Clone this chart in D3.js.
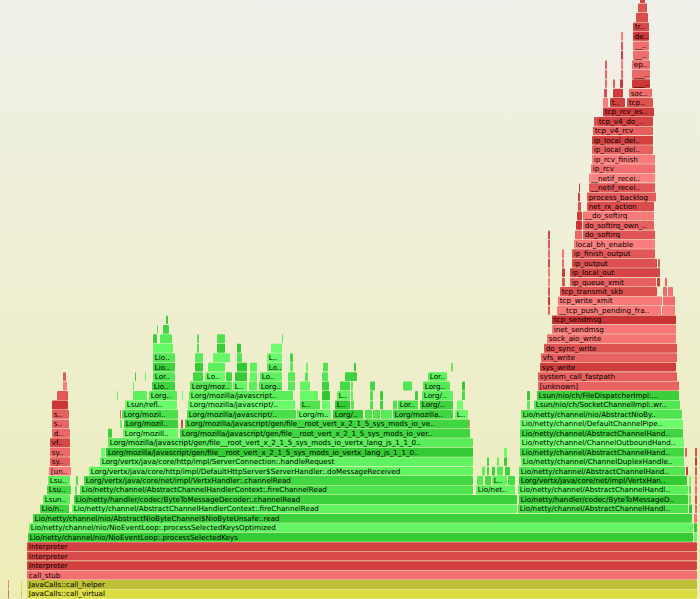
<!DOCTYPE html>
<html><head><meta charset="utf-8">
<script src="https://cdn.jsdelivr.net/npm/d3@7"></script>
<style>html,body{margin:0;padding:0;overflow:hidden;background:#eeeed8}</style>
</head><body>
<svg id="chart" width="700" height="599"></svg>
<script>
// ---------------- DATA ----------------
// Each frame: [stack depth, first sample, last sample, frame name, frame kind]
// kinds: J = Java (JIT), K = kernel / native, I = interpreter, C = C++, S = stub
const totalSamples = 700;
const maxDepth = 63;

const jvmBase = [
  [0,8,9,'','K'],[0,21,22,'','C'],[0,27,697,'JavaCalls::call_virtual','C'],
  [1,8,9,'','K'],[1,21,22,'','C'],[1,27,697,'JavaCalls::call_helper','C'],
  [2,27,697,'call_stub','S'],
  [3,27,697,'Interpreter','I'],
  [4,27,697,'Interpreter','I'],
  [5,27,697,'Interpreter','I'],
  [6,28,693,'Lio/netty/channel/nio/NioEventLoop:.processSelectedKeys','J'],[6,694,697,'','J'],
  [7,29,693,'Lio/netty/channel/nio/NioEventLoop:.processSelectedKeysOptimized','J'],[7,694,697,'','J'],
  [8,33,692,'Lio/netty/channel/nio/AbstractNioByteChannel$NioByteUnsafe:.read','J'],[8,694,697,'','K']
];

const leftNative = [
  [9,40,69,'Lio/n..','J'],
  [10,43,70,'Lsun..','J'],
  [11,47,71,'Lsu..','J'],
  [12,48,70,'Lsu..','J'],
  [13,49,71,'[un..','K'],
  [14,50,70,'sy..','K'],
  [15,50,70,'sy..','K'],
  [16,50,70,'vf..','K'],
  [17,52,70,'d..','K'],
  [18,52,69,'s..','K'],
  [19,52,69,'s..','K'],
  [20,52,68,'','K'],
  [21,57,68,'','K'],
  [22,63,67,'','K'],
  [23,63,66,'','K']
];

const nettyRead = [
  [9,72,517,'Lio/netty/channel/AbstractChannelHandlerContext:.fireChannelRead','J'],
  [10,74,517,'Lio/netty/handler/codec/ByteToMessageDecoder:.channelRead','J'],
  [11,75,77,'','J'],
  [11,80,473,'Lio/netty/channel/AbstractChannelHandlerContext:.fireChannelRead','J'],
  [11,476,515,'Lio/net..','J'],
  [12,76,78,'','J'],
  [12,84,473,'Lorg/vertx/java/core/net/impl/VertxHandler:.channelRead','J'],
  [12,477,483,'','J'],[12,485,491,'','J'],[12,492,507,'L..','J'],[12,508,515,'','J'],
  [13,89,473,'Lorg/vertx/java/core/http/impl/DefaultHttpServer$ServerHandler:.doMessageReceived','J'],
  [13,482,485,'','J'],[13,487,489,'','J'],[13,492,495,'','J'],[13,497,503,'','J'],[13,505,510,'','J'],
  [14,100,473,'Lorg/vertx/java/core/http/impl/ServerConnection:.handleRequest','J'],
  [14,487,489,'','J'],[14,497,499,'','J'],[14,504,507,'','J'],
  [15,101,105,'','J'],
  [15,106,473,'Lorg/mozilla/javascript/gen/file__root_vert_x_2_1_5_sys_mods_io_vertx_lang_js_1_1_0..','J'],
  [15,504,507,'','J']
];

const rhinoJs = [
  [16,108,473,'Lorg/mozilla/javascript/gen/file__root_vert_x_2_1_5_sys_mods_io_vertx_lang_js_1_1_0..','J'],
  [17,108,112,'','J'],[17,123,178,'Lorg/mozill..','J'],
  [17,180,470,'Lorg/mozilla/javascript/gen/file__root_vert_x_2_1_5_sys_mods_io_ver..','J'],
  [18,120,122,'','J'],[18,124,178,'Lorg/mozil..','J'],[18,181,183,'','K'],
  [18,185,469,'Lorg/mozilla/javascript/gen/file__root_vert_x_2_1_5_sys_mods_io_ve..','J'],[18,469,470,'','K'],
  [19,120,121,'','K'],[19,122,178,'Lorg/mozil..','J'],[19,187,296,'Lorg/mozilla/javascript/..','J'],
  [19,297,331,'Lorg/m..','J'],[19,333,363,'Lorg/m..','J'],[19,365,372,'','J'],[19,373,380,'','J'],
  [19,381,392,'','J'],[19,393,453,'Lorg/mozilla..','J'],[19,455,468,'L..','J'],
  [20,125,177,'Lsun/refl..','J'],[20,188,295,'Lorg/mozilla/javascript/..','J'],[20,300,320,'L..','J'],
  [20,322,330,'','J'],[20,335,350,'L..','J'],[20,351,354,'','J'],[20,370,373,'','J'],[20,380,383,'','J'],
  [20,393,397,'','J'],[20,398,418,'Lor..','J'],[20,420,453,'Lorg/..','J'],[20,457,463,'','J'],
  [21,117,118,'','J'],[21,133,147,'','J'],[21,149,177,'Lorg..','J'],[21,182,183,'','J'],
  [21,189,293,'Lorg/mozilla/javascript..','J'],[21,300,318,'','J'],[21,322,330,'','J'],[21,337,350,'L..','J'],
  [21,351,353,'','J'],[21,370,373,'','J'],[21,380,383,'','J'],[21,415,418,'','J'],[21,422,453,'Lorg/..','J'],
  [21,462,465,'','J'],
  [22,133,134,'','J'],[22,152,175,'Lio..','J'],[22,190,232,'Lorg/moz..','J'],[22,233,247,'L..','J'],
  [22,249,257,'','J'],[22,259,282,'Lorg..','J'],[22,288,295,'','J'],[22,300,310,'','J'],[22,322,329,'','J'],
  [22,340,350,'','J'],[22,351,353,'','J'],[22,370,375,'','J'],[22,403,412,'','J'],[22,423,450,'Lorg..','J'],
  [22,462,465,'','J'],
  [23,135,136,'','J'],[23,145,146,'','J'],[23,153,175,'Lor..','J'],[23,193,203,'','J'],[23,205,225,'Lo..','J'],
  [23,226,232,'','J'],[23,235,247,'','J'],[23,250,257,'','J'],[23,260,282,'Lo..','J'],[23,288,295,'','J'],
  [23,305,308,'','J'],[23,322,328,'','J'],[23,345,357,'','J'],[23,428,447,'Lor..','J'],
  [24,153,175,'Lio..','J'],[24,195,203,'','J'],[24,208,225,'','J'],[24,237,247,'','J'],[24,250,257,'','J'],
  [24,267,282,'Lo..','J'],[24,290,293,'','J'],[24,306,308,'','J'],[24,323,328,'','J'],[24,354,356,'','J'],
  [24,451,453,'','J'],
  [25,153,175,'Lio..','J'],[25,195,203,'','J'],[25,213,230,'','J'],[25,237,242,'','J'],[25,267,282,'L..','J'],
  [25,290,293,'','J'],
  [26,153,173,'','J'],[26,197,199,'','J'],[26,217,225,'','J'],[26,237,241,'','J'],[26,271,282,'','J'],
  [27,153,157,'','J'],[27,160,172,'','J'],[27,197,199,'','J'],[27,217,225,'','J'],[27,282,283,'','J'],
  [28,157,158,'','J'],[28,163,169,'','J'],
  [29,166,168,'','J']
];

const nettyWrite = [
  [9,518,688,'Lio/netty/channel/AbstractChannelHandl..','J'],
  [10,519,688,'Lio/netty/handler/codec/ByteToMessageD..','J'],
  [11,518,688,'Lio/netty/channel/AbstractChannelHandl..','J'],
  [12,519,687,'Lorg/vertx/java/core/net/impl/VertxHan..','J'],
  [13,519,685,'Lio/netty/channel/AbstractChannelHand..','J'],
  [14,521,684,'Lio/netty/channel/ChannelDuplexHandle..','J'],
  [15,520,684,'Lio/netty/channel/AbstractChannelHand..','J'],
  [16,520,684,'Lio/netty/channel/ChannelOutboundHand..','J'],
  [17,520,683,'Lio/netty/channel/AbstractChannelHand..','J'],
  [18,520,683,'Lio/netty/channel/DefaultChannelPipe..','J'],
  [19,521,682,'Lio/netty/channel/nio/AbstractNioBy..','J'],
  [20,527,530,'','J'],[20,534,680,'Lsun/nio/ch/SocketChannelImpl:.wr..','J'],
  [21,527,530,'','J'],[21,537,679,'Lsun/nio/ch/FileDispatcherImpl:...','J']
];

const edgeFrames = [
  [9,689,692,'','J'],[10,689,691,'','J'],[11,689,691,'','J'],[12,689,691,'','J'],
  [13,686,688,'','K'],[15,685,687,'','K'],
  [9,695,697,'','K'],[10,695,697,'','K'],[11,695,697,'','K'],[12,695,697,'','K'],
  [13,695,697,'','K'],[14,695,697,'','K'],[15,695,697,'','K']
];

const kernelWrite = [
  [22,538,679,'[unknown]','K'],
  [23,538,677,'system_call_fastpath','K'],
  [24,540,676,'sys_write','K'],
  [25,541,677,'vfs_write','K'],
  [26,544,677,'do_sync_write','K'],
  [27,547,676,'sock_aio_write','K'],
  [28,552,676,'inet_sendmsg','K'],
  [29,552,676,'tcp_sendmsg','K'],
  [30,548,550,'','K'],[30,557,661,'__tcp_push_pending_fra..','K'],[30,662,675,'','K'],
  [31,548,550,'','K'],[31,558,662,'tcp_write_xmit','K'],[31,663,675,'','K'],
  [32,548,550,'','K'],[32,560,657,'tcp_transmit_skb','K'],[32,663,667,'','K'],[32,668,673,'','K'],
  [33,548,550,'','K'],[33,562,565,'','K'],[33,570,656,'ip_queue_xmit','K'],[33,657,660,'','K'],[33,665,667,'','K'],
  [34,548,550,'','K'],[34,562,565,'','K'],[34,570,660,'ip_local_out','K'],
  [35,548,550,'','K'],[35,562,564,'','K'],[35,572,657,'ip_output','K'],[35,658,660,'','K'],
  [36,548,550,'','K'],[36,562,564,'','K'],[36,572,655,'ip_finish_output','K'],
  [37,548,550,'','K'],[37,574,655,'local_bh_enable','K'],
  [38,548,550,'','K'],[38,575,582,'','K'],[38,583,655,'do_softirq','K']
];

const kernelRecv = [
  [39,576,582,'','K'],[39,583,654,'do_softirq_own_..','K'],
  [40,577,582,'','K'],[40,583,654,'__do_softirq','K'],
  [41,578,581,'','K'],[41,587,654,'net_rx_action','K'],
  [42,578,580,'','K'],[42,587,656,'process_backlog','K'],
  [43,579,580,'','K'],[43,589,655,'__netif_recei..','K'],
  [44,589,655,'__netif_recei..','K'],
  [45,591,655,'ip_rcv','K'],
  [46,592,655,'ip_rcv_finish','K'],
  [47,592,653,'ip_local_del..','K'],
  [48,592,653,'ip_local_del..','K'],
  [49,593,653,'tcp_v4_rcv','K'],
  [50,594,597,'','K'],[50,597,653,'tcp_v4_do_..','K'],
  [51,603,654,'tcp_rcv_es..','K'],
  [52,603,608,'','K'],[52,610,625,'t..','K'],[52,627,653,'tcp..','K'],
  [53,604,607,'','K'],[53,613,623,'','K'],[53,629,652,'soc..','K'],
  [54,605,607,'','K'],[54,613,615,'','K'],[54,620,623,'','K'],[54,632,650,'___..','K'],
  [55,605,607,'','K'],[55,621,623,'','K'],[55,632,650,'___..','K'],
  [56,605,607,'','K'],[56,621,623,'','K'],[56,632,650,'ep..','K'],
  [57,621,623,'','K'],[57,633,649,'___..','K'],
  [58,621,623,'','K'],[58,633,649,'___..','K'],
  [59,621,623,'','K'],[59,633,649,'de..','K'],
  [60,633,649,'tr..','K'],
  [61,636,648,'','K'],
  [62,638,647,'','K'],
  [63,640,645,'','K']
];

// ---------------- STYLE ----------------
const W = 700, H = 599;
const rowPitch = 9.45, frameH = 8.9, bottomTop = 589.5;
const fontSize = 7.2;
const shadeOverride = {
  'JavaCalls::call_virtual': 0.82, 'JavaCalls::call_helper': 0.3, 'call_stub': 0.78,
  'Lio/netty/channel/nio/NioEventLoop:.processSelectedKeys': 0.05,
  'Lio/netty/channel/nio/NioEventLoop:.processSelectedKeysOptimized': 0.8,
  '[unknown]': 0.6, 'system_call_fastpath': 0.55, 'sys_write': 0.15
};

function hashV(s) {
  let h = 2166136261;
  for (let i = 0; i < s.length; i++) { h ^= s.charCodeAt(i); h = Math.imul(h, 16777619); }
  h ^= h >>> 13; h = Math.imul(h, 0x5bd1e995); h ^= h >>> 15;
  return ((h >>> 0) % 1000) / 1000;
}
function frameColor(f) {
  const [depth, start, end, name, kind] = f;
  let v = (name in shadeOverride) ? shadeOverride[name] : hashV(name + '|' + depth + '|' + start);
  if (kind === 'I') v = [0.18, 0.3, 0.2][depth % 3];
  if (kind === 'J') { const g = 200 + Math.round(55 * v), x = 50 + Math.round(60 * v); return `rgb(${x},${g},${x})`; }
  if (kind === 'C') { const r = 175 + Math.round(55 * v), b = 50 + Math.round(20 * v); return `rgb(${r},${r},${b})`; }
  const r = 200 + Math.round(55 * v), x = 50 + Math.round(80 * v); return `rgb(${r},${x},${x})`;
}

const frames = [].concat(jvmBase, leftNative, nettyRead, rhinoJs, nettyWrite, edgeFrames, kernelWrite, kernelRecv);

const x = d3.scaleLinear().domain([0, totalSamples]).range([0, W]);
const y = d3.scaleLinear().domain([0, maxDepth]).range([bottomTop, bottomTop - maxDepth * rowPitch]);

const svg = d3.select('#chart');
const defs = svg.append('defs');
const grad = defs.append('linearGradient').attr('id', 'bg').attr('x1', 0).attr('y1', 0).attr('x2', 0).attr('y2', 1);
grad.append('stop').attr('offset', '0%').attr('stop-color', '#f0f0ea');
grad.append('stop').attr('offset', '100%').attr('stop-color', '#ededb8');
svg.append('rect').attr('width', W).attr('height', H).attr('fill', 'url(#bg)');

const g = svg.append('g');
const nodes = g.selectAll('g.frame').data(frames).enter().append('g').attr('class', 'frame');
nodes.append('rect')
  .attr('x', d => x(d[1]))
  .attr('y', d => y(d[0]))
  .attr('width', d => Math.max(0.8, x(d[2]) - x(d[1])))
  .attr('height', frameH)
  .attr('rx', 1).attr('ry', 1)
  .attr('fill', d => frameColor(d));

nodes.filter(d => d[3] !== '').each(function (d) {
  const w = x(d[2]) - x(d[1]);
  const t = d3.select(this).append('text')
    .attr('x', x(d[1]) + 1.8)
    .attr('y', y(d[0]) + 6.9)
    .attr('font-family', '"DejaVu Sans", Verdana, sans-serif')
    .attr('font-size', fontSize + 'px')
    .attr('fill', '#000')
    .text(d[3]);
  const node = t.node();
  if (node.getComputedTextLength() > w - 1) {
    const base = d[3].replace(/\.\.$/, '');
    let ok = false;
    for (let n = base.length - 1; n >= 1; n--) {
      t.text(base.slice(0, n) + '..');
      if (node.getComputedTextLength() <= w - 1) { ok = true; break; }
    }
    if (!ok) t.remove();
  }
});
</script>
</body></html>
